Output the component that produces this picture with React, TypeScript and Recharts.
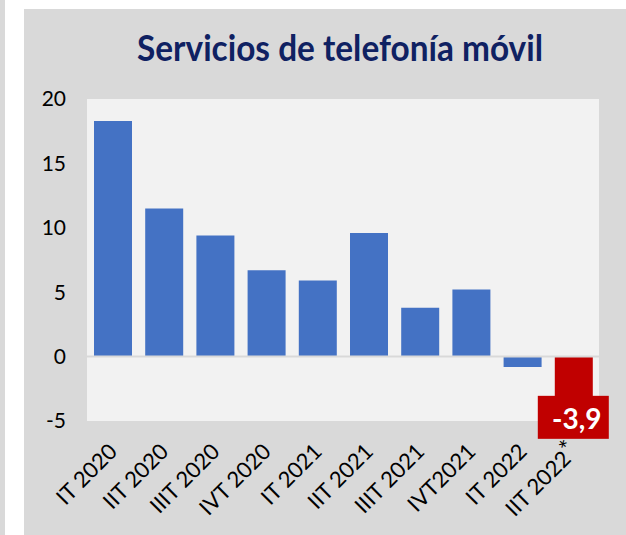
import React from 'react';
import { BarChart, Bar, XAxis, YAxis, CartesianGrid, ReferenceLine, Cell, LabelList } from 'recharts';

const categories = ['IT 2020', 'IIT 2020', 'IIIT 2020', 'IVT 2020', 'IT 2021', 'IIT 2021', 'IIIT 2021', 'IVT2021', 'IT 2022', 'IIT 2022*'];
const values = [18.3, 11.5, 9.4, 6.7, 5.9, 9.6, 3.8, 5.2, -0.8, -3.9];
const barColors = ['#4472c4', '#4472c4', '#4472c4', '#4472c4', '#4472c4', '#4472c4', '#4472c4', '#4472c4', '#4472c4', '#c00000'];
const yTicks = [-5, 0, 5, 10, 15, 20];
const title = 'Servicios de telefonía móvil';

const data = categories.map((c, i) => ({ name: c, value: values[i] }));
const lastIndex = data.length - 1;

const XTick = (props: any) => {
  const { x, y, payload } = props;
  const v = String(payload.value);
  const star = v.endsWith('*');
  const base = star ? v.slice(0, -1) : v;
  return (
    <g transform={`translate(${x + 6},${y + 32})`}>
      <text x={0} y={0} textAnchor="end" transform="rotate(-45)" fontSize={22} fontFamily="Lato" fill="#000">
        {base}
        {star && (
          <tspan fontSize={24} dy={-4}>
            *
          </tspan>
        )}
      </text>
    </g>
  );
};

const LastLabel = (props: any) => {
  const { x, y, width, height, value, index } = props;
  if (index !== lastIndex) return null;
  const bottom = Math.max(y, y + height);
  const cx = x + width / 2;
  return (
    <g>
      <rect x={cx - 36} y={bottom - 11} width={71} height={43} fill="#c00000" />
      <text x={cx + 3} y={bottom + 22} textAnchor="middle" fontSize={28} fontWeight={700} fontFamily="Lato" fill="#fff">
        {String(value).replace('.', ',')}
      </text>
    </g>
  );
};

export default function App() {
  return (
    <div style={{ position: 'fixed', left: 0, top: 0, width: 626, height: 535, background: '#fff', overflow: 'hidden' }}>
      <div style={{ position: 'absolute', left: 0, top: 0, width: 5, height: 535, background: '#d9d9d9' }} />
      <div style={{ position: 'absolute', left: 24, top: 9, width: 602, height: 526, background: '#d9d9d9' }} />
      <svg width={626} height={100} style={{ position: 'absolute', left: 0, top: 0 }}>
        <text x={340} y={61} textAnchor="middle" fontSize={36} fontWeight={700} fontFamily="Lato" fill="#0f2162" textLength={406} lengthAdjust="spacingAndGlyphs">
          {title}
        </text>
      </svg>
      <div style={{ position: 'absolute', left: 0, top: 0 }}>
        <BarChart width={626} height={535} data={data} margin={{ top: 99, right: 27, bottom: 0, left: 0 }}>
          <CartesianGrid fill="#f2f2f2" stroke="none" horizontal={false} vertical={false} />
          <XAxis dataKey="name" height={114} axisLine={false} tickLine={false} tickSize={0} tickMargin={0} interval={0} tick={<XTick />} />
          <YAxis
            width={87}
            domain={[-5, 20]}
            ticks={yTicks}
            axisLine={false}
            tickLine={false}
            tickSize={0}
            tickMargin={21}
            interval={0}
            tick={{ fontSize: 21, fill: '#000', fontFamily: 'Lato' }}
          />
          <ReferenceLine y={0} stroke="#d9d9d9" strokeWidth={2} />
          <Bar dataKey="value" barSize={38} isAnimationActive={false}>
            {data.map((d, i) => (
              <Cell key={d.name} fill={barColors[i]} />
            ))}
            <LabelList dataKey="value" content={<LastLabel />} />
          </Bar>
        </BarChart>
      </div>
    </div>
  );
}
